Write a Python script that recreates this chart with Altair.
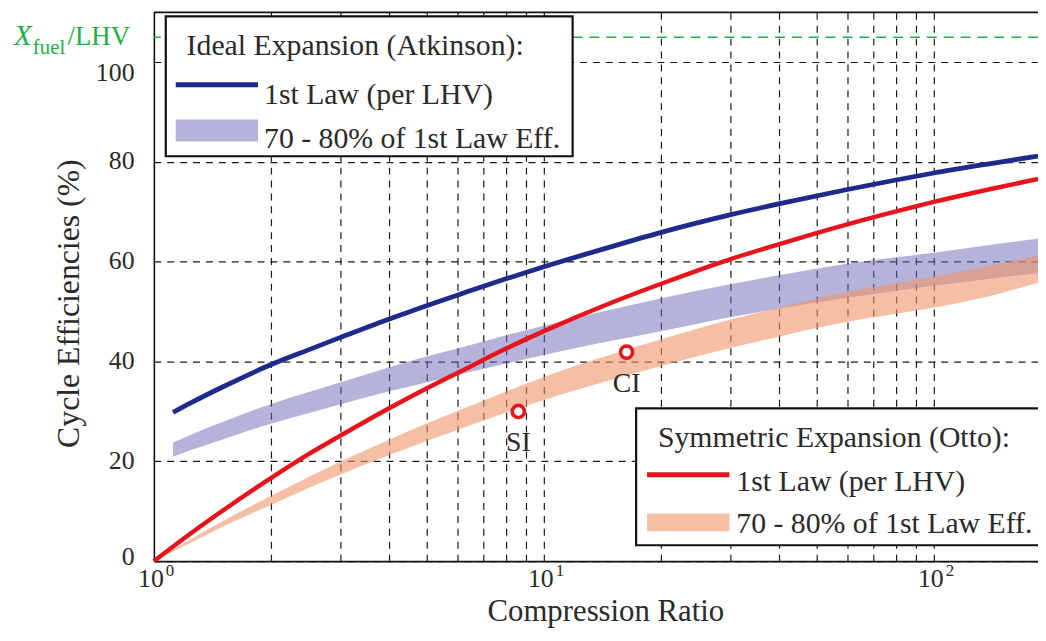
import altair as alt
import pandas as pd

# ---------------- data ----------------
R_ATK = [1.12, 1.25, 1.5, 2, 2.5, 3, 4, 5, 6, 8, 10, 15, 20, 30, 40, 60, 80, 100, 140, 185]
ATK_LINE = [29.8, 31.8, 34.9, 39.4, 42.4, 44.8, 48.5, 51.2, 53.3, 56.6, 59.0, 63.1, 65.9, 69.4,
            71.6, 74.5, 76.4, 77.8, 79.7, 81.2]
ATK_HI = [23.8, 25.4, 27.9, 31.5, 33.9, 35.8, 38.8, 41.0, 42.6, 45.3, 47.2, 50.5, 52.7, 55.5,
          57.3, 59.6, 60.9, 61.8, 63.4, 64.6]
ATK_LO = [20.9, 22.3, 24.4, 27.6, 29.7, 31.4, 34.0, 35.8, 37.3, 39.6, 41.3, 44.2, 46.1, 48.9,
          50.6, 52.8, 54.2, 55.2, 56.6, 57.7]

R_OTTO = [1, 1.25, 1.5, 2, 2.5, 3, 4, 5, 6, 8, 10, 15, 20, 30, 40, 60, 80, 100, 140, 185]
OTTO_LINE = [0, 5.7, 10.1, 16.7, 21.5, 25.1, 30.6, 34.6, 37.7, 42.6, 46.1, 51.9, 55.6, 60.5,
             63.5, 67.5, 70.1, 72.0, 74.6, 76.6]
OTTO_HI = [0, 4.5, 8.0, 13.1, 16.9, 19.9, 24.3, 27.6, 30.1, 34.0, 36.9, 41.5, 44.5, 48.4,
           50.8, 54.0, 55.7, 57.0, 59.3, 61.2]
OTTO_LO = [0, 3.8, 6.9, 11.3, 14.7, 17.3, 21.2, 24.1, 26.3, 29.8, 32.3, 36.4, 39.1, 42.7,
           45.0, 48.0, 49.6, 50.8, 53.2, 55.8]

PT_NAMES = ["SI", "CI"]
PT_R = [8.6, 16.3]
PT_EFF = [30.0, 41.9]

FUEL_LEVEL = [105]
X_DOMAIN = [1, 185]
Y_DOMAIN = [0, 110]
X_GRID = [2, 3, 4, 5, 6, 7, 8, 9, 10, 20, 30, 40, 50, 60, 70, 80, 90, 100]
Y_TICKS = [0, 20, 40, 60, 80, 100]
X_LABEL_POS = [1, 10, 100]
X_LABEL_EXP = ["0", "1", "2"]

# ---------------- styling ----------------
FONT = "Liberation Serif"
NAVY = "#1f2a8c"
RED = "#e8141c"
BAND_BLUE = "#6c68b6"
BAND_ORANGE = "#ee946b"
GREEN = "#22ad48"
TXT = "#2a2a2a"
GRID = "#1a1a1a"
W, H = 891, 553
LEG_FS = 30

atk = pd.DataFrame({"r": R_ATK, "eff": ATK_LINE, "lo": ATK_LO, "hi": ATK_HI})
otto = pd.DataFrame({"r": R_OTTO, "eff": OTTO_LINE, "lo": OTTO_LO, "hi": OTTO_HI})
pts = pd.DataFrame({"name": PT_NAMES, "r": PT_R, "eff": PT_EFF})
fuel = pd.DataFrame({"v": FUEL_LEVEL})
top = pd.DataFrame({"v": [Y_DOMAIN[1]]})
xlab = pd.DataFrame({"r": X_LABEL_POS, "e": X_LABEL_EXP})
one = pd.DataFrame({"a": [0]})

xs = alt.Scale(type="log", domain=X_DOMAIN, nice=False)
ys = alt.Scale(domain=Y_DOMAIN, nice=False)

x_axis = alt.Axis(
    values=X_GRID, labels=False, ticks=False, grid=True,
    gridColor=GRID, gridDash=[7, 6], gridWidth=1.2, gridOpacity=1,
    domainColor="#111", domainWidth=1.6,
    title="Compression Ratio", titleFont=FONT, titleFontSize=31,
    titleFontWeight="normal", titleColor=TXT,
    titleX=455, titleY=60, titleAlign="center", titleBaseline="alphabetic",
)
y_axis = alt.Axis(
    values=Y_TICKS, ticks=False, grid=True,
    gridColor=GRID, gridDash=[7, 6], gridWidth=1.2, gridOpacity=1,
    domainColor="#111", domainWidth=1.6,
    labelFont=FONT, labelFontSize=26, labelColor=TXT, labelPadding=20,
    labelOffset={"condition": [{"test": "datum.value === 100", "value": 10},
                               {"test": "datum.value === 0", "value": -5}],
                 "value": -1},
    title="Cycle Efficiencies (%)", titleFont=FONT, titleFontSize=32,
    titleFontWeight="normal", titleColor=TXT,
    titleX=-76, titleY=293, titleAngle=270, titleAlign="center",
    titleBaseline="alphabetic",
)

band_atk = alt.Chart(atk).mark_area(color=BAND_BLUE, opacity=0.5, interpolate="monotone").encode(
    x=alt.X("r:Q", scale=xs, axis=x_axis),
    y=alt.Y("lo:Q", scale=ys, axis=y_axis),
    y2="hi:Q",
)
band_otto = alt.Chart(otto).mark_area(color=BAND_ORANGE, opacity=0.6, interpolate="monotone").encode(
    x=alt.X("r:Q", scale=xs), y=alt.Y("lo:Q", scale=ys), y2="hi:Q"
)
fuel_rule = alt.Chart(fuel).mark_rule(color=GREEN, strokeDash=[10, 7], strokeWidth=1.6).encode(
    y=alt.Y("v:Q", scale=ys)
)
line_atk = alt.Chart(atk).mark_line(color=NAVY, strokeWidth=4.8, interpolate="monotone").encode(
    x=alt.X("r:Q", scale=xs), y=alt.Y("eff:Q", scale=ys)
)
line_otto = alt.Chart(otto).mark_line(color=RED, strokeWidth=4.5, interpolate="monotone").encode(
    x=alt.X("r:Q", scale=xs), y=alt.Y("eff:Q", scale=ys)
)
pt_marks = alt.Chart(pts).mark_point(
    shape="circle", size=150, filled=False, stroke=RED, strokeWidth=3.6, fill="white", fillOpacity=1
).encode(x=alt.X("r:Q", scale=xs), y=alt.Y("eff:Q", scale=ys))
pt_text = alt.Chart(pts).mark_text(
    font=FONT, fontSize=28, color=TXT, dy=40, baseline="alphabetic", align="center"
).encode(x=alt.X("r:Q", scale=xs), y=alt.Y("eff:Q", scale=ys), text="name:N")

top_rule = alt.Chart(top).mark_rule(color="#111", strokeWidth=1.6).encode(
    y=alt.Y("v:Q", scale=ys)
)

# x tick labels 10^n
xl_base = alt.Chart(xlab).mark_text(
    font=FONT, fontSize=26, color=TXT, align="right", baseline="alphabetic", dx=10
).encode(x=alt.X("r:Q", scale=xs), y=alt.value(H + 26), text=alt.value("10"))
xl_exp = alt.Chart(xlab).mark_text(
    font=FONT, fontSize=17, color=TXT, align="left", baseline="alphabetic", dx=12
).encode(x=alt.X("r:Q", scale=xs), y=alt.value(H + 15), text="e:N")

# green X_fuel/LHV label
g1 = alt.Chart(one).mark_text(font=FONT, fontSize=29, fontStyle="italic", color=GREEN,
                              align="left", baseline="alphabetic", text="X").encode(
    x=alt.value(-141), y=alt.value(33))
g2 = alt.Chart(one).mark_text(font=FONT, fontSize=21, color=GREEN,
                              align="left", baseline="alphabetic", text="fuel").encode(
    x=alt.value(-122), y=alt.value(42))
g3 = alt.Chart(one).mark_text(font=FONT, fontSize=27, color=GREEN,
                              align="left", baseline="alphabetic", text="/LHV").encode(
    x=alt.value(-87), y=alt.value(33))


def legend(x0, x1, y0, y1, title, line_color, band_color, band_op, lx, ly, tx, tys):
    box = alt.Chart(one).mark_rect(fill="white", stroke="#111", strokeWidth=2.2).encode(
        x=alt.value(x0), x2=alt.value(x1), y=alt.value(y0), y2=alt.value(y1))
    t0 = alt.Chart(one).mark_text(font=FONT, fontSize=LEG_FS, color=TXT, align="left",
                                  baseline="alphabetic", text=title).encode(
        x=alt.value(lx + 11), y=alt.value(tys[0]))
    ln = alt.Chart(one).mark_rule(color=line_color, strokeWidth=5).encode(
        x=alt.value(lx), x2=alt.value(lx + 83), y=alt.value(ly[0]))
    t1 = alt.Chart(one).mark_text(font=FONT, fontSize=LEG_FS, color=TXT, align="left",
                                  baseline="alphabetic", text="1st Law (per LHV)").encode(
        x=alt.value(tx), y=alt.value(tys[1]))
    bd = alt.Chart(one).mark_rect(color=band_color, opacity=band_op).encode(
        x=alt.value(lx), x2=alt.value(lx + 83), y=alt.value(ly[1]), y2=alt.value(ly[2]))
    t2 = alt.Chart(one).mark_text(font=FONT, fontSize=LEG_FS, color=TXT, align="left",
                                  baseline="alphabetic", text="70 - 80% of 1st Law Eff.").encode(
        x=alt.value(tx), y=alt.value(tys[2]))
    return [box, t0, ln, t1, bd, t2]


leg1 = legend(12, 422, 4, 145, "Ideal Expansion (Atkinson):", NAVY, BAND_BLUE, 0.5,
              22, [73, 108, 130], 111, [43, 92, 137])
leg2 = legend(486, 960, 399, 537, "Symmetric Expansion (Otto):", RED, BAND_ORANGE, 0.6,
              497, [466, 505, 523], 587, [438, 482, 525])

chart = alt.layer(
    band_atk, band_otto, fuel_rule, line_atk, line_otto, pt_marks, pt_text, top_rule,
    *leg1, *leg2, xl_base, xl_exp, g1, g2, g3,
).properties(
    width=W, height=H,
    padding={"left": 147, "top": 2, "right": 0, "bottom": 66},
    autosize=alt.AutoSizeParams(type="none"),
).configure_view(stroke=None)

chart.save("out.html", embed_options={"renderer": "svg", "actions": False})
